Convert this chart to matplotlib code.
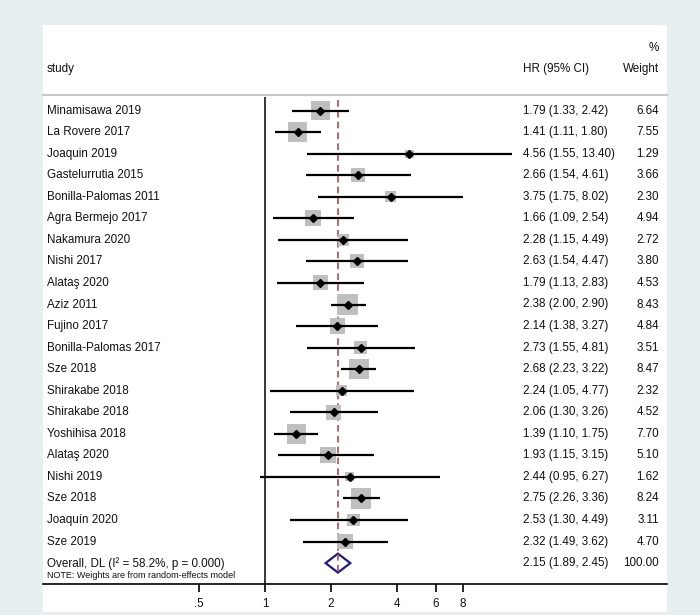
import numpy as np
import matplotlib.pyplot as plt
from matplotlib.patches import Rectangle, Polygon

# study rows, top to bottom
studies = ['Minamisawa 2019', 'La Rovere 2017', 'Joaquin 2019', 'Gastelurrutia 2015',
           'Bonilla-Palomas 2011', 'Agra Bermejo 2017', 'Nakamura 2020', 'Nishi 2017',
           'Alataş 2020', 'Aziz 2011', 'Fujino 2017', 'Bonilla-Palomas 2017', 'Sze 2018',
           'Shirakabe 2018', 'Shirakabe 2018', 'Yoshihisa 2018', 'Alataş 2020', 'Nishi 2019',
           'Sze 2018', 'Joaquín 2020', 'Sze 2019']
hr = [1.79, 1.41, 4.56, 2.66, 3.75, 1.66, 2.28, 2.63, 1.79, 2.38, 2.14,
      2.73, 2.68, 2.24, 2.06, 1.39, 1.93, 2.44, 2.75, 2.53, 2.32]
lo = [1.33, 1.11, 1.55, 1.54, 1.75, 1.09, 1.15, 1.54, 1.13, 2.00, 1.38,
      1.55, 2.23, 1.05, 1.30, 1.10, 1.15, 0.95, 2.26, 1.30, 1.49]
hi = [2.42, 1.80, 13.40, 4.61, 8.02, 2.54, 4.49, 4.47, 2.83, 2.90, 3.27,
      4.81, 3.22, 4.77, 3.26, 1.75, 3.15, 6.27, 3.36, 4.49, 3.62]
weights = [6.64, 7.55, 1.29, 3.66, 2.30, 4.94, 2.72, 3.80, 4.53, 8.43, 4.84,
           3.51, 8.47, 2.32, 4.52, 7.70, 5.10, 1.62, 8.24, 3.11, 4.70]

overall_label = 'Overall, DL (I\u00b2 = 58.2%, p = 0.000)'
overall = (2.15, 1.89, 2.45)
overall_weight = 100.00

xticks = [0.5, 1, 2, 4, 6, 8]
xticklabels = ['.5', '1', '2', '4', '6', '8']

plt.rcParams['font.family'] = ['Liberation Sans', 'DejaVu Sans']
txtc = '#111111'
fs = 8.4

fig = plt.figure(figsize=(7, 6.15), dpi=100, facecolor='#e7eff1')
# white plot region
fig.patches.append(Rectangle((43/700, 3/615), 624/700, 587/615, transform=fig.transFigure,
                             facecolor='white', edgecolor='none', zorder=-1))

ax = fig.add_axes([43/700, (615-584)/615, 624/700, (584-25)/615])
ax.set_zorder(1)
ax.set_facecolor('none')
ax.set_xscale('log')
ax.set_xlim(2**-3.364, 2**6.091)
ax.set_ylim(21.97, -3.97)

n = len(studies)
rows = np.arange(n)
tr = ax.get_yaxis_transform()

# reference line at 1 and overall effect line
ax.vlines(1, -0.65, 21.97, color='black', lw=1.1, zorder=2)
ax.plot([overall[0], overall[0]], [-0.5, 21.43], color='#b34a4e', lw=1.2,
        ls=(0, (4, 2.5)), zorder=1)

# CIs, weight boxes, point estimates
ax.scatter(hr, rows, s=[26*w for w in weights], marker='s', color='#bfbfbf',
           edgecolors='none', zorder=2)
ax.hlines(rows, lo, hi, color='black', lw=1.6, zorder=3)
ax.plot(hr, rows, 'D', color='black', ms=4, zorder=4)

# overall diamond
yo = n
dia = Polygon([(overall[1], yo), (overall[0], yo - 0.44), (overall[2], yo),
               (overall[0], yo + 0.44)], closed=True, facecolor='white',
              edgecolor='#1c1c8a', lw=1.6, zorder=5)
ax.add_patch(dia)
ax.plot([overall[0], overall[0]], [yo - 0.44, yo + 0.44], color='#b34a4e', lw=1.2,
        ls=(0, (4, 2.5)), zorder=6)

# header
ax.text(0.0064, -1.93, 'study', transform=tr, ha='left', va='center', fontsize=fs, color=txtc)
ax.text(0.769, -1.93, 'HR (95% CI)', transform=tr, ha='left', va='center', fontsize=fs, color=txtc)
ax.text(0.987, -1.93, 'Weight', transform=tr, ha='right', va='center', fontsize=fs, color=txtc)
ax.text(0.987, -2.9, '%', transform=tr, ha='right', va='center', fontsize=fs, color=txtc)
ax.plot([0, 1], [-0.7, -0.7], transform=tr, color='#c8c8c8', lw=1.5, clip_on=False)

for i in range(n):
    ax.text(0.0064, i, studies[i], transform=tr, ha='left', va='center', fontsize=fs, color=txtc)
    ax.text(0.769, i, '%.2f (%.2f, %.2f)' % (hr[i], lo[i], hi[i]), transform=tr,
            ha='left', va='center', fontsize=fs, color=txtc)
    ax.text(0.987, i, '%.2f' % weights[i], transform=tr, ha='right', va='center',
            fontsize=fs, color=txtc)

ax.text(0.0064, yo, overall_label, transform=tr, ha='left', va='center', fontsize=fs, color=txtc)
ax.text(0.769, yo, '%.2f (%.2f, %.2f)' % (overall[0], overall[1], overall[2]), transform=tr,
        ha='left', va='center', fontsize=fs, color=txtc)
ax.text(0.987, yo, '%.2f' % overall_weight, transform=tr, ha='right', va='center',
        fontsize=fs, color=txtc)
ax.text(0.0064, yo + 0.56, 'NOTE: Weights are from random-effects model', transform=tr,
        ha='left', va='center', fontsize=6.5, color=txtc)

# axes styling
for s in ['top', 'right', 'left']:
    ax.spines[s].set_visible(False)
ax.spines['bottom'].set_linewidth(1.2)
ax.set_yticks([])
ax.set_xticks(xticks)
ax.set_xticklabels(xticklabels)
ax.minorticks_off()
ax.tick_params(axis='x', direction='out', length=6, width=1.2, labelsize=fs,
               labelcolor=txtc, pad=4)

fig.savefig('out.png', dpi=100, facecolor=fig.get_facecolor())
